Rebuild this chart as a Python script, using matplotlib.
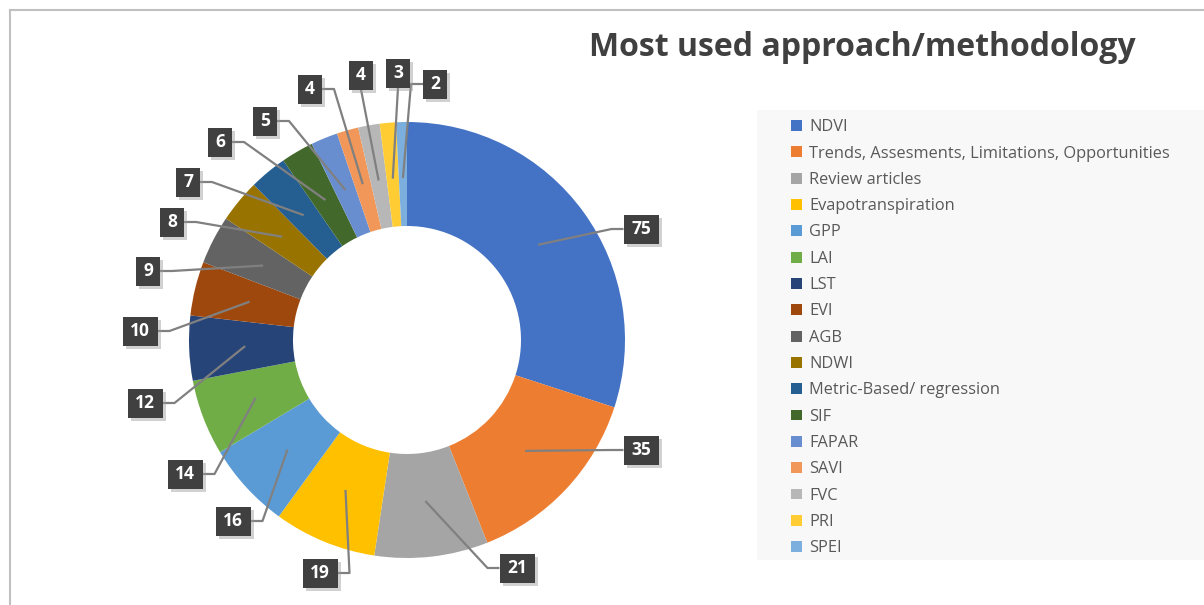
import numpy as np
import matplotlib.pyplot as plt
from matplotlib.patches import Rectangle
from matplotlib.lines import Line2D

plt.rcParams['font.family'] = ['Open Sans', 'DejaVu Sans']

categories = ["NDVI", "Trends, Assesments, Limitations, Opportunities", "Review articles",
              "Evapotranspiration", "GPP", "LAI", "LST", "EVI", "AGB", "NDWI",
              "Metric-Based/ regression", "SIF", "FAPAR", "SAVI", "FVC", "PRI", "SPEI"]
counts = [75, 35, 21, 19, 16, 14, 12, 10, 9, 8, 7, 6, 5, 4, 4, 3, 2]
colors = ["#4472C4", "#ED7D31", "#A5A5A5", "#FFC000", "#5B9BD5", "#70AD47", "#264478",
          "#9E480E", "#636363", "#997300", "#255E91", "#43682B", "#698ED0", "#F1975A",
          "#B7B7B7", "#FFCD33", "#7CAFDD"]

# label box centres, pixels from top-left of the image
label_pos = [(641, 229), (641, 450), (517, 568), (320, 573), (233, 521), (185, 474),
             (145, 403), (140, 331), (148, 271), (172, 222), (188, 182), (220, 142),
             (265, 121), (310, 89), (361, 75), (398, 73), (435, 84)]

W, H = 1204, 605
fig = plt.figure(figsize=(W / 100, H / 100), dpi=100)
ax = fig.add_axes([0, 0, 1, 1])

cx, cy = 407, H - 340
r_out, r_in = 218, 114
wedges, _ = ax.pie(counts, colors=colors, startangle=90, counterclock=False,
                   center=(cx, cy), radius=r_out, frame=True,
                   wedgeprops=dict(width=r_out - r_in, linewidth=0))
ax.set_xlim(0, W)
ax.set_ylim(0, H)
ax.set_aspect('equal')
ax.axis('off')

# data labels with leader lines
r_mid = (r_out + r_in) / 2 - 4
box_h = 29
for w, val, (lx, ly) in zip(wedges, counts, label_pos):
    ang = np.deg2rad((w.theta1 + w.theta2) / 2)
    ax_x = cx + r_mid * np.cos(ang)
    ax_y = cy + r_mid * np.sin(ang)
    ly = H - ly
    box_w = 35 if val >= 10 else 24
    if abs(lx - ax_x) < 25:
        xs, ys = [ax_x, lx], [ax_y, ly - box_h / 2]
    elif lx > ax_x:
        edge = lx - box_w / 2
        xs, ys = [ax_x, edge - 12, edge], [ax_y, ly, ly]
    else:
        edge = lx + box_w / 2
        xs, ys = [ax_x, edge + 12, edge], [ax_y, ly, ly]
    ax.plot(xs, ys, color="#808080", lw=1.6, zorder=3, solid_capstyle='butt')
    ax.add_patch(Rectangle((lx - box_w / 2 + 3, ly - box_h / 2 - 3), box_w, box_h,
                           fc='#9a9a9a', ec='none', alpha=0.45, zorder=4))
    ax.add_patch(Rectangle((lx - box_w / 2, ly - box_h / 2), box_w, box_h,
                           fc='#404040', ec='none', zorder=5))
    ax.text(lx, ly, str(val), ha='center', va='center', color='white',
            fontsize=12.5, fontweight='bold', zorder=6)

# title
fig.text(862 / W, 1 - 47 / H, "Most used approach/methodology", ha='center', va='center',
         fontsize=23, fontweight='bold', color='#404040')

# legend background
ax.add_patch(Rectangle((757, H - 560), W - 757, 450, fc='#F8F8F8', ec='none', zorder=0))
leg = ax.legend(wedges, categories, loc='upper left', bbox_to_anchor=(783 / W, 1 - 111 / H),
                bbox_transform=fig.transFigure, frameon=False, fontsize=11.8,
                handlelength=0.65, handleheight=0.65, handletextpad=0.45,
                labelspacing=0.63, borderpad=0)
for t in leg.get_texts():
    t.set_color('#595959')

# outer border
fig.add_artist(Line2D([10 / W, 1], [1 - 10 / H, 1 - 10 / H], color='#C0C0C0', lw=1.5,
                      transform=fig.transFigure))
fig.add_artist(Line2D([10 / W, 10 / W], [0, 1 - 10 / H], color='#C0C0C0', lw=1.5,
                      transform=fig.transFigure))

fig.savefig("out.png", dpi=100)
